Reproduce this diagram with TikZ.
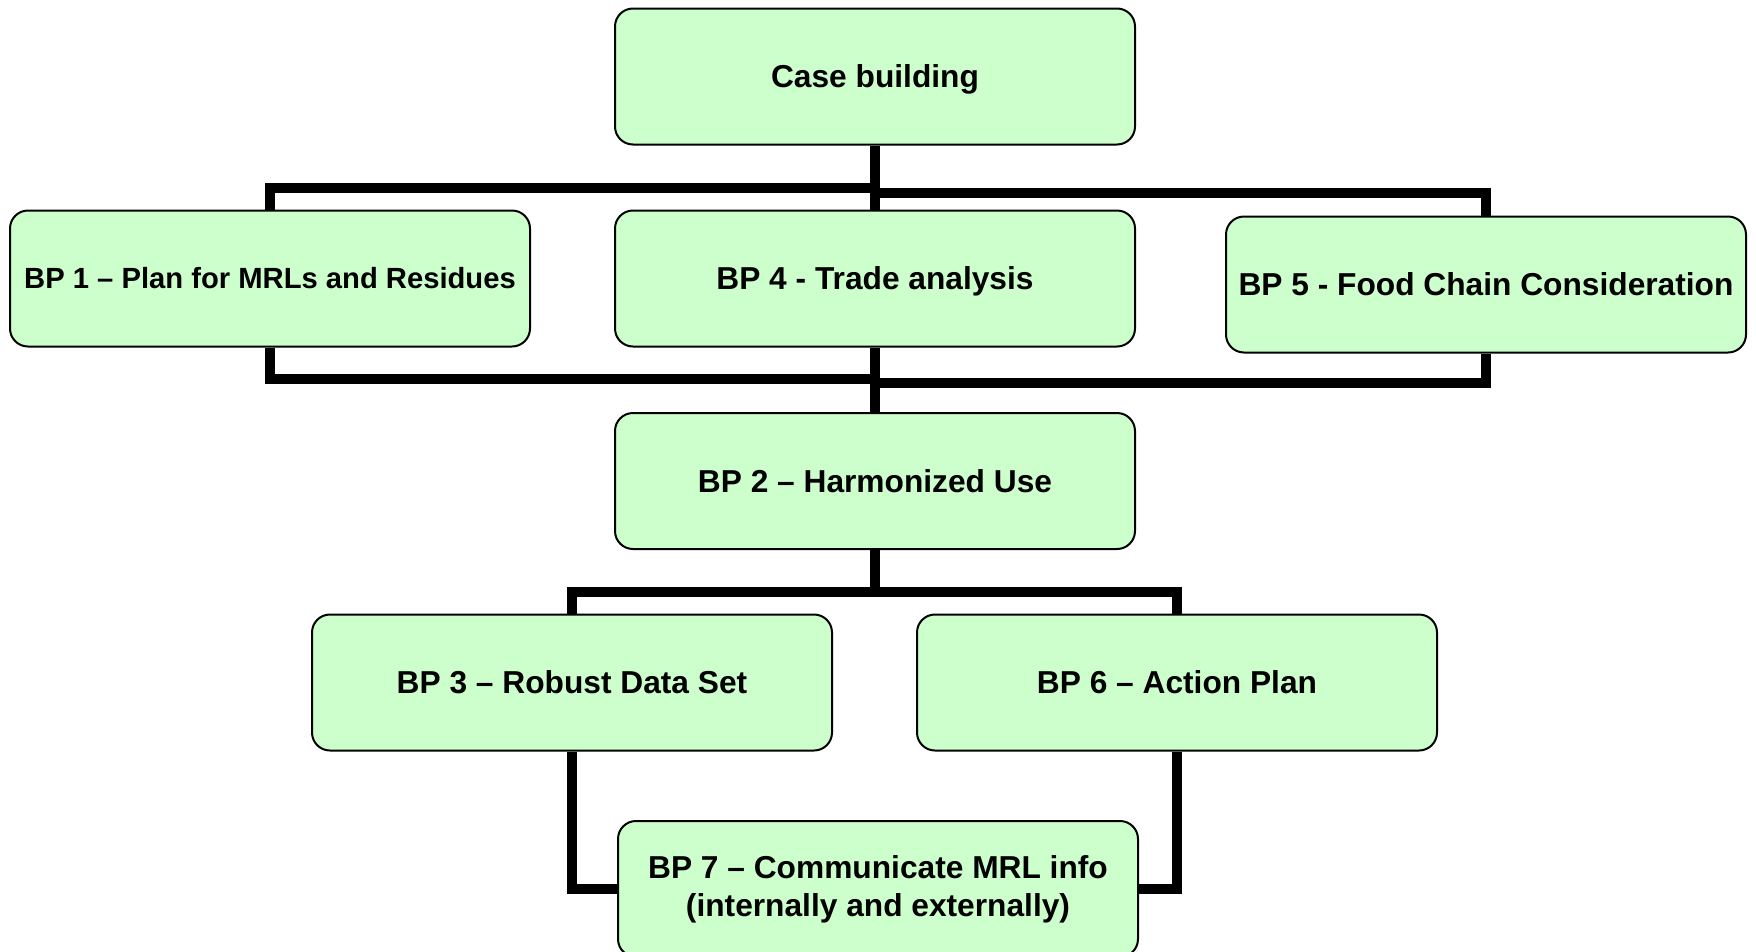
\documentclass[tikz,border=0pt]{standalone}
\usepackage{fontspec}
\setmainfont{Liberation Sans}
\definecolor{boxgreen}{RGB}{204,255,204}
\tikzset{
  bp/.style={draw=black, line width=2pt, fill=boxgreen, rounded corners=18pt,
    minimum width=520pt, minimum height=136pt, inner sep=0pt, align=center,
    font=\fontsize{31.7}{38}\selectfont\bfseries},
  oneline/.style={text height=22.7pt, text depth=0pt},
  link/.style={draw=black, line width=10pt}
}
\begin{document}
\begin{tikzpicture}[x=1pt,y=-1pt]
\useasboundingbox (0,0) rectangle (1756,951);
\node[bp, oneline] (cb) at (875,76.5) {Case building};
\node[bp, font=\fontsize{29.2}{35}\selectfont\bfseries, oneline, text height=20.9pt] (bp1) at (270,278.5) {BP 1 – Plan for MRLs and Residues};
\node[bp, oneline] (bp4) at (875,278.5) {BP 4 - Trade analysis};
\node[bp, oneline] (bp5) at (1486,284.5) {BP 5 - Food Chain Consideration};
\node[bp, oneline] (bp2) at (875,481) {BP 2 – Harmonized Use};
\node[bp, oneline] (bp3) at (572,682.5) {BP 3 – Robust Data Set};
\node[bp, oneline] (bp6) at (1177,682.5) {BP 6 – Action Plan};
\node[bp] (bp7) at (878,889) {BP 7 – Communicate MRL info\\(internally and externally)};
\coordinate (t1) at (875,187.5);
\coordinate (t2) at (875,192.5);
\coordinate (m1) at (875,378.5);
\coordinate (m2) at (875,382.5);
\coordinate (m3) at (875,591.5);
\draw[link] (cb.south) -- (bp4.north);
\draw[link] (t1) -| (bp1.north);
\draw[link] (t2) -| (bp5.north);
\draw[link] (bp1.south) |- (m1);
\draw[link] (bp5.south) |- (m2);
\draw[link] (bp4.south) -- (bp2.north);
\draw[link] (bp2.south) -- (m3);
\draw[link] (m3) -| (bp3.north);
\draw[link] (m3) -| (bp6.north);
\draw[link] (bp3.south) |- (bp7.west);
\draw[link] (bp6.south) |- (bp7.east);
\end{tikzpicture}
\end{document}
